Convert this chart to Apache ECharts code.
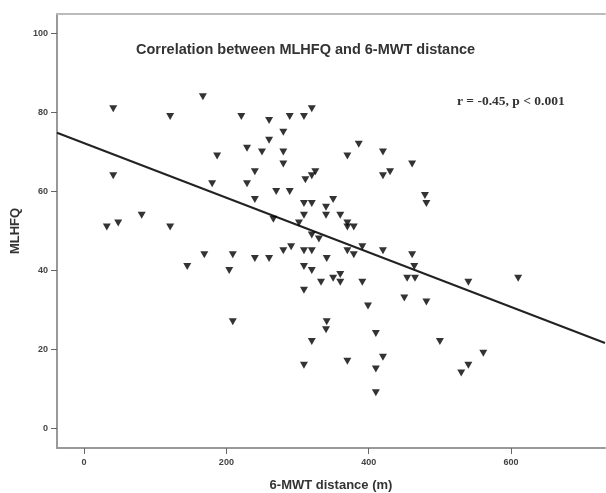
<!DOCTYPE html>
<html>
<head>
<meta charset="utf-8">
<script src="https://cdn.jsdelivr.net/npm/echarts@6/dist/echarts.min.js"></script>
<style>html,body{margin:0;padding:0;background:#fff;}#c{width:606px;height:493px;}</style>
</head>
<body>
<div id="c"></div>
<script>
var distance = [41,41,32,48,81,121,121,145,167,221,229,187,180,229,169,209,320,260,289,309,280,260,250,280,280,386,370,420,461,240,325,320,311,430,420,270,289,240,350,309,320,340,309,340,360,266,302,370,370,379,320,330,280,291,309,320,370,391,420,461,379,240,260,341,204,309,320,350,360,333,360,391,309,399,209,341,340,410,320,420,370,309,410,410,481,479,464,454,465,450,481,540,610,500,561,540,530];
var mlhfq = [81,64,51,52,54,79,51,41,84,79,71,69,62,62,44,44,81,78,79,79,75,73,70,70,67,72,69,70,67,65,65,64,63,65,64,60,60,58,58,57,57,56,54,54,54,53,52,52,51,51,49,48,45,46,45,45,45,46,45,44,44,43,43,43,40,41,40,38,39,37,37,37,35,31,27,27,25,24,22,18,17,16,15,9,57,59,41,38,38,33,32,37,38,22,19,16,14];
var fitX = [-38, 732];
var fitY = [74.9, 21.6];
var xTicks = [0, 200, 400, 600];
var yTicks = [0, 20, 40, 60, 80, 100];

var pts = distance.map(function(d, i){ return [d, mlhfq[i]]; });
var fitLine = fitX.map(function(d, i){ return [d, fitY[i]]; });

var chart = echarts.init(document.getElementById('c'), null, {renderer:'canvas'});
var tickLabel = {fontSize: 9, fontWeight: 'bold', color: '#444', fontFamily: 'Liberation Sans'};
chart.setOption({
  backgroundColor: '#fff',
  animation: false,
  title: {
    text: 'Correlation between MLHFQ and 6-MWT distance',
    left: 131, top: 37,
    textStyle: {fontSize: 14.5, fontWeight: 'bold', color: '#333', fontFamily: 'Liberation Sans'}
  },
  graphic: [{
    type: 'text', left: 457, top: 95,
    style: {text: 'r = -0.45, p < 0.001', font: 'bold 13.5px "Liberation Serif"', fill: '#333'}
  }],
  grid: {left: 57, right: 1, top: 14, bottom: 45, containLabel: false, outerBoundsMode: 'none'},
  xAxis: [{
    type: 'value', min: -38, max: 732,
    name: '6-MWT distance (m)', nameLocation: 'middle', nameGap: 31,
    nameTextStyle: {fontSize: 13, fontWeight: 'bold', color: '#333', fontFamily: 'Liberation Sans'},
    axisLine: {show: true, onZero: false, lineStyle: {color: '#999', width: 2}},
    axisTick: {show: true, length: 6, lineStyle: {color: '#666'}, customValues: xTicks},
    axisLabel: Object.assign({margin: 10, customValues: xTicks}, tickLabel),
    splitLine: {show: false}
  }, {
    type: 'value', min: -38, max: 732, position: 'top',
    axisLine: {show: true, onZero: false, lineStyle: {color: '#bbb', width: 2}},
    axisTick: {show: false}, axisLabel: {show: false}, splitLine: {show: false}
  }],
  yAxis: [{
    type: 'value', min: -5, max: 105,
    name: 'MLHFQ', nameLocation: 'middle', nameGap: 35, nameRotate: 90,
    nameTextStyle: {fontSize: 13, fontWeight: 'bold', color: '#333', fontFamily: 'Liberation Sans'},
    axisLine: {show: true, onZero: false, lineStyle: {color: '#999', width: 2}},
    axisTick: {show: true, length: 6, lineStyle: {color: '#666'}, customValues: yTicks},
    axisLabel: Object.assign({margin: 9, customValues: yTicks}, tickLabel),
    splitLine: {show: false}
  }],
  series: [{
    type: 'line', data: fitLine, symbol: 'none',
    lineStyle: {color: '#222', width: 2}, z: 2
  }, {
    type: 'scatter', data: pts, symbol: 'triangle', symbolRotate: 180,
    symbolSize: [8, 7], itemStyle: {color: '#000'}, z: 3
  }]
});
</script>
</body>
</html>
